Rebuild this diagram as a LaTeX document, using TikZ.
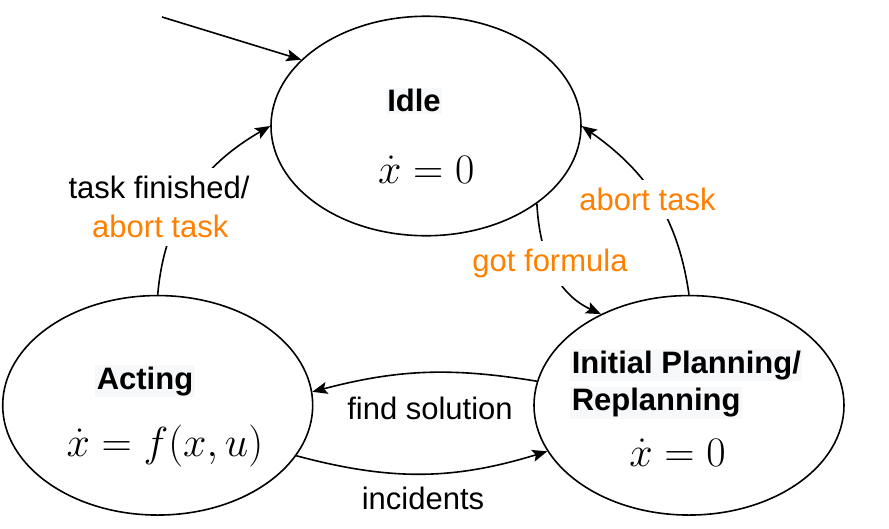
\RequirePackage{fix-cm}
\documentclass[tikz,border=0pt]{standalone}
\usepackage[no-math]{fontspec}
\setmainfont{Liberation Sans}
\usetikzlibrary{shapes.geometric,arrows.meta}
\definecolor{lblbg}{RGB}{247,248,250}
\definecolor{orng}{RGB}{255,128,0}
\begin{document}
\begin{tikzpicture}[x=1pt,y=1pt,line width=1.6pt,
  state/.style={draw, ellipse, inner sep=0pt, minimum width=310pt, minimum height=219.5pt},
  title/.style={fill=lblbg, inner sep=1.5pt, font=\fontsize{31}{36}\selectfont\bfseries},
  eq/.style={inner sep=0pt, font=\fontsize{42}{50}\selectfont},
  lbl/.style={inner sep=0pt, font=\fontsize{31}{36}\selectfont},
  cover/.style={lbl, fill=white, inner sep=8pt},
  arr/.style={-{Stealth[length=15pt,width=12pt,inset=3pt]}}]
\useasboundingbox (0,0) rectangle (889,-528);
% states
\node[state] (idle) at (426,-126) {};
\node[state] (acting) at (157.7,-405.3) {};
\node[state] (plan) at (689,-405.3) {};
% titles
\node[title, anchor=base] (idleT) at (414,-111.7) {Idle};
\node[title, anchor=base] (actT) at (145,-389) {Acting};
\node[title, anchor=base west] (planT1) at (569.5,-373.3) {Initial Planning/};
\node[title, anchor=base west] (planT2) at (569.5,-410.7) {Replanning};
% equations
\node[eq, anchor=base] (idleE) at (426.3,-183.7) {$\dot x = 0$};
\node[eq, anchor=base] (actE) at (165,-456.8) {$\dot x = f(x,u)$};
\node[eq, anchor=base] (planE) at (677.5,-466.8) {$\dot x = 0$};
% connectors
\coordinate (init) at (162,-17);
\draw[arr] (init) -- (idle.152);
\draw[arr] (acting.north) to[out=85,in=210] (idle.west);
\draw[arr] (idle.-35) to[out=-87,in=155] (plan.134);
\draw[arr] (plan.north) to[out=98,in=-35] (idle.east);
\draw[arr] (plan.171.5) to[bend right=12] (acting.5);
\draw[arr] (acting.-20) to[bend right=16] (plan.-162);
% labels
\node[cover, anchor=base] (tf1) at (159,-198.3) {task finished/};
\node[cover, anchor=base, text=orng] (tf2) at (160.3,-237.3) {abort task};
\node[cover, anchor=base, text=orng] (gf) at (550,-271.7) {got formula};
\node[cover, anchor=base, text=orng] (ab) at (647.5,-210.7) {abort task};
\node[lbl, anchor=base] (fs) at (430,-419.3) {find solution};
\node[lbl, anchor=base] (inc) at (423,-509) {incidents};
\end{tikzpicture}
\end{document}
